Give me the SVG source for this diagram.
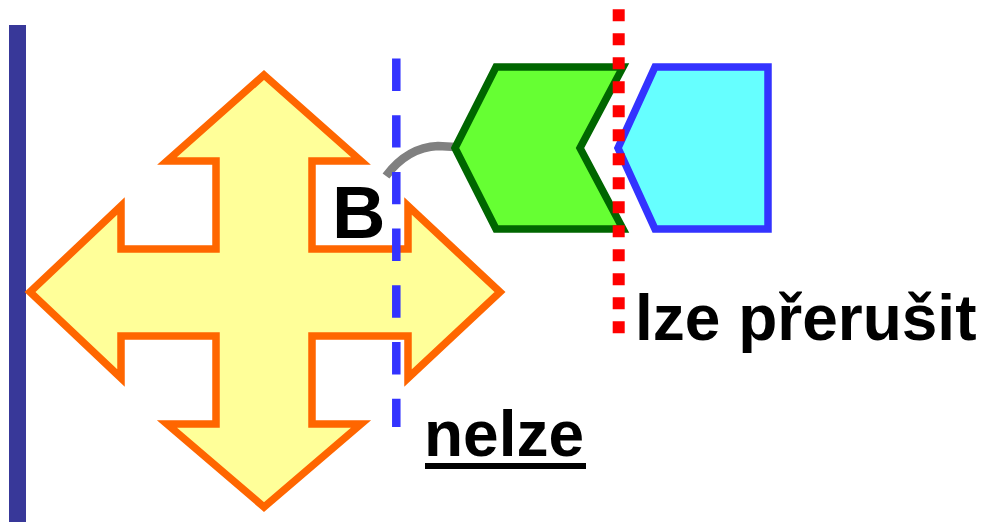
<svg xmlns="http://www.w3.org/2000/svg" width="983" height="522" viewBox="0 0 983 522">
<style>
.lbl{font-family:"Liberation Sans",Arial,sans-serif;font-weight:bold;fill:#000}
</style>
<rect width="983" height="522" fill="#fff"/>
<g id="wall"><rect x="9" y="25" width="17" height="497" fill="#383899"/></g>
<g id="cross">
<path d="M264,75 L361,161 L312,161 L312,249 L408,249 L408,206 L500,292 L408,378 L408,336 L312,336 L312,424 L361,424 L264,507 L167,424 L216,424 L216,336 L121,336 L121,378 L30,292 L121,206 L121,249 L216,249 L216,161 L167,161 Z" fill="#ffff99" stroke="#ff6600" stroke-width="7.5" stroke-miterlimit="10"/>
</g>
<g id="connectors">
<path d="M386,176 C398,160 414,147 438,146 L456,147" fill="none" stroke="#808080" stroke-width="8.5"/>
</g>
<g id="green">
<path d="M455,148 L496,67 L623,67 L580,148 L623,229 L496,229 Z" fill="#66ff33" stroke="#006600" stroke-width="7.5"/>
</g>
<g id="cyan">
<path d="M618,148 L655,67 L768,67 L768,229 L655,229 Z" fill="#66ffff" stroke="#3333ff" stroke-width="7.5"/>
</g>
<g id="dashed-line"><line x1="396.3" y1="58.5" x2="396.3" y2="427" stroke="#3333ff" stroke-width="8.5" stroke-dasharray="32.4 24.3"/></g>
<g id="dotted-line"><line x1="618.7" y1="9.3" x2="618.7" y2="333.7" stroke="#ff0000" stroke-width="12" stroke-dasharray="12 12"/></g>
<g id="label-B"><text class="lbl" x="332" y="238" font-size="74">B</text></g>
<g id="label-lze"><text class="lbl" x="635" y="340" font-size="64">lze přerušit</text></g>
<g id="label-nelze"><text class="lbl" x="424" y="456" font-size="64">nelze</text><rect x="425" y="463" width="161" height="6" fill="#000"/></g>
</svg>
